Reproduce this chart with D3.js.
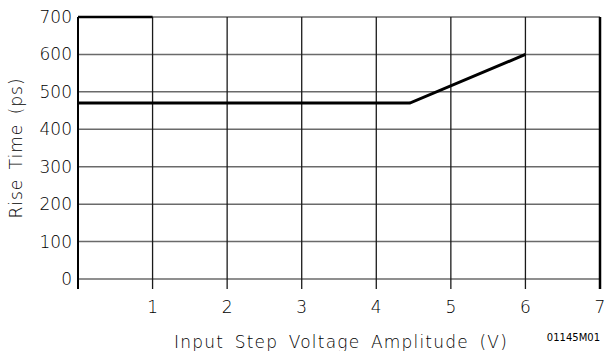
<!DOCTYPE html>
<html>
<head>
<meta charset="utf-8">
<script src="https://cdn.jsdelivr.net/npm/d3@7"></script>
<style>
  body { margin: 0; background: #fff; }
  text { font-family: "DejaVu Sans", sans-serif; font-weight: 300; fill: #000; }
</style>
</head>
<body>
<div class="chart"></div>
<script>
const xTicks = [1, 2, 3, 4, 5, 6, 7];
const yTicks = [0, 100, 200, 300, 400, 500, 600, 700];
const voltage = [0, 4.45, 6];
const riseTime = [470, 470, 600];

const width = 605;
const height = 351;
const margin = {"top": 17, "bottom": 72, "left": 78, "right": 5};
const w = width - margin.left - margin.right;
const h = height - margin.top - margin.bottom;

let x = d3.scaleLinear().domain([0, 7]).range([0, w]);
let y = d3.scaleLinear().domain([0, 700]).range([h, 0]);

let svg = d3.select(".chart")
	.append("svg")
	.attr("width", width)
	.attr("height", height);
let canvas = svg.append("g")
	.attr("transform", "translate(" + margin.left + "," + margin.top + ")");

// horizontal grid, gray
canvas.selectAll(".hgrid")
	.data(yTicks)
	.enter()
	.append("line")
	.attr("x1", 0).attr("x2", w)
	.attr("y1", d => y(d)).attr("y2", d => y(d))
	.attr("stroke", "#6a6a6a")
	.attr("stroke-width", 1.5);

// vertical grid, dark, running down past the axis as ticks
canvas.selectAll(".vgrid")
	.data(xTicks.slice(0, -1))
	.enter()
	.append("line")
	.attr("x1", d => x(d)).attr("x2", d => x(d))
	.attr("y1", 0).attr("y2", h + 10)
	.attr("stroke", "#1a1a1a")
	.attr("stroke-width", 1.3);

// frame edges
canvas.append("line")
	.attr("x1", x(0)).attr("x2", x(0))
	.attr("y1", 0).attr("y2", h + 10)
	.attr("stroke", "#000").attr("stroke-width", 2);
canvas.append("line")
	.attr("x1", x(7)).attr("x2", x(7))
	.attr("y1", 0).attr("y2", h + 10)
	.attr("stroke", "#000").attr("stroke-width", 2.5);
canvas.append("line")
	.attr("x1", x(0)).attr("x2", x(1))
	.attr("y1", y(700)).attr("y2", y(700))
	.attr("stroke", "#000").attr("stroke-width", 2.5);

// data line
let line = d3.line()
	.x((d, i) => x(voltage[i]))
	.y(d => y(d));
canvas.append("path")
	.datum(riseTime)
	.attr("d", line)
	.attr("fill", "none")
	.attr("stroke", "#000")
	.attr("stroke-width", 3);

// tick labels
canvas.selectAll(".xlab")
	.data(xTicks)
	.enter()
	.append("text")
	.attr("x", d => x(d))
	.attr("y", h + 34)
	.attr("text-anchor", "middle")
	.style("font-size", "17px")
	.text(d => d);

canvas.selectAll(".ylab")
	.data(yTicks)
	.enter()
	.append("text")
	.attr("x", -6)
	.attr("y", d => y(d) + 6)
	.attr("text-anchor", "end")
	.style("font-size", "17px")
	.text(d => d);

// axis titles
canvas.append("text")
	.attr("x", 263)
	.attr("y", h + 69)
	.attr("text-anchor", "middle")
	.style("font-size", "17px")
	.style("letter-spacing", "1.2px")
	.style("word-spacing", "4px")
	.text("Input Step Voltage Amplitude (V)");

svg.append("text")
	.attr("transform", "translate(22," + 148 + ") rotate(-90)")
	.attr("text-anchor", "middle")
	.style("font-size", "17px")
	.style("letter-spacing", "1px")
	.style("word-spacing", "3px")
	.text("Rise Time (ps)");

svg.append("text")
	.attr("x", 600)
	.attr("y", 341)
	.attr("text-anchor", "end")
	.style("font-size", "10px")
	.style("font-weight", "400")
	.text("01145M01");
</script>
</body>
</html>
